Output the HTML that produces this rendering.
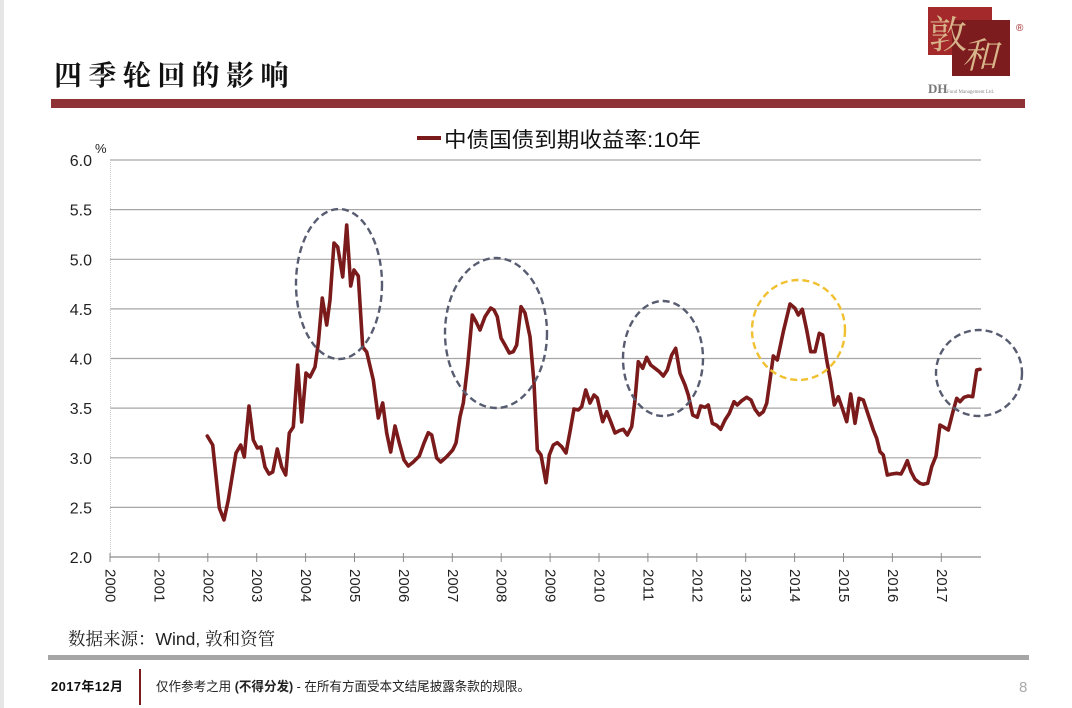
<!DOCTYPE html>
<html><head><meta charset="utf-8"><style>
html,body{margin:0;padding:0;background:#fff;}
body{width:1072px;height:708px;overflow:hidden;position:relative;font-family:"Liberation Sans","Noto Sans CJK SC",sans-serif;}
</style></head><body>
<svg width="1072" height="708" viewBox="0 0 1072 708" xmlns="http://www.w3.org/2000/svg" style="position:absolute;left:0;top:0">
<rect x="0" y="0" width="4" height="708" fill="#e6e6e6"/>
<!-- title -->
<text x="54" y="85" font-family="'Noto Serif CJK SC','Noto Sans CJK SC',serif" font-size="28" font-weight="bold" letter-spacing="6.5" fill="#111" textLength="241">四季轮回的影响</text>
<rect x="51" y="99" width="974" height="9" fill="#8f3236"/>
<!-- logo -->
<rect x="928" y="7" width="64" height="48" fill="#a3292b"/>
<rect x="952" y="20" width="58" height="56" fill="#7d1c1e"/>
<text x="929" y="48" font-family="'Noto Serif CJK SC',serif" font-size="38" fill="#d8b48a">敦</text>
<text x="962" y="68" font-family="'Noto Serif CJK SC',serif" font-size="36" fill="#d8b48a" font-style="italic">和</text>
<text x="1016" y="31" font-size="10" fill="#a3292b">®</text>
<text x="928" y="93" font-family="'Liberation Serif',serif" font-size="13" font-weight="bold" fill="#777">DH</text>
<text x="947" y="93" font-family="'Liberation Serif',serif" font-size="5" fill="#888">Fund Management Ltd.</text>
<!-- legend -->
<line x1="417" y1="138" x2="441" y2="138" stroke="#7a1a1a" stroke-width="4"/>
<text x="444" y="147" font-size="21" fill="#111" textLength="257" lengthAdjust="spacingAndGlyphs" font-family="'Liberation Sans','Noto Sans CJK SC',sans-serif">中债国债到期收益率:10年</text>
<!-- gridlines -->
<g stroke="#a6a6a6" stroke-width="1.2">
<line x1="110" y1="160" x2="981" y2="160"/>
<line x1="110" y1="209.6" x2="981" y2="209.6"/>
<line x1="110" y1="259.3" x2="981" y2="259.3"/>
<line x1="110" y1="308.9" x2="981" y2="308.9"/>
<line x1="110" y1="358.5" x2="981" y2="358.5"/>
<line x1="110" y1="408.1" x2="981" y2="408.1"/>
<line x1="110" y1="457.8" x2="981" y2="457.8"/>
<line x1="110" y1="507.4" x2="981" y2="507.4"/>
</g>
<line x1="110.5" y1="160" x2="110.5" y2="557" stroke="#c8c8c8" stroke-width="1" stroke-dasharray="1,1"/>
<line x1="110" y1="557" x2="981" y2="557" stroke="#8c8c8c" stroke-width="1.3"/>
<g stroke="#8c8c8c" stroke-width="1">
<line x1="110" y1="553" x2="110" y2="562"/><line x1="158.9" y1="553" x2="158.9" y2="562"/><line x1="207.8" y1="553" x2="207.8" y2="562"/><line x1="256.7" y1="553" x2="256.7" y2="562"/><line x1="305.6" y1="553" x2="305.6" y2="562"/><line x1="354.5" y1="553" x2="354.5" y2="562"/><line x1="403.4" y1="553" x2="403.4" y2="562"/><line x1="452.3" y1="553" x2="452.3" y2="562"/><line x1="501.2" y1="553" x2="501.2" y2="562"/><line x1="550.1" y1="553" x2="550.1" y2="562"/><line x1="599" y1="553" x2="599" y2="562"/><line x1="647.9" y1="553" x2="647.9" y2="562"/><line x1="696.8" y1="553" x2="696.8" y2="562"/><line x1="745.7" y1="553" x2="745.7" y2="562"/><line x1="794.6" y1="553" x2="794.6" y2="562"/><line x1="843.5" y1="553" x2="843.5" y2="562"/><line x1="892.4" y1="553" x2="892.4" y2="562"/><line x1="941.3" y1="553" x2="941.3" y2="562"/>
</g>
<!-- y labels -->
<g font-size="16" fill="#222" text-anchor="end">
<text x="92" y="166">6.0</text>
<text x="92" y="215.6">5.5</text>
<text x="92" y="265.3">5.0</text>
<text x="92" y="314.9">4.5</text>
<text x="92" y="364.5">4.0</text>
<text x="92" y="414.1">3.5</text>
<text x="92" y="463.8">3.0</text>
<text x="92" y="513.4">2.5</text>
<text x="92" y="563">2.0</text>
</g>
<text x="95" y="153" font-size="13" fill="#222">%</text>
<!-- x labels -->
<g font-size="15" fill="#222" dominant-baseline="central">
<text transform="translate(110,569) rotate(90)">2000</text>
<text transform="translate(158.9,569) rotate(90)">2001</text>
<text transform="translate(207.8,569) rotate(90)">2002</text>
<text transform="translate(256.7,569) rotate(90)">2003</text>
<text transform="translate(305.6,569) rotate(90)">2004</text>
<text transform="translate(354.5,569) rotate(90)">2005</text>
<text transform="translate(403.4,569) rotate(90)">2006</text>
<text transform="translate(452.3,569) rotate(90)">2007</text>
<text transform="translate(501.2,569) rotate(90)">2008</text>
<text transform="translate(550.1,569) rotate(90)">2009</text>
<text transform="translate(599,569) rotate(90)">2010</text>
<text transform="translate(647.9,569) rotate(90)">2011</text>
<text transform="translate(696.8,569) rotate(90)">2012</text>
<text transform="translate(745.7,569) rotate(90)">2013</text>
<text transform="translate(794.6,569) rotate(90)">2014</text>
<text transform="translate(843.5,569) rotate(90)">2015</text>
<text transform="translate(892.4,569) rotate(90)">2016</text>
<text transform="translate(941.3,569) rotate(90)">2017</text>
</g>
<!-- series -->
<polyline fill="none" stroke="#7a1a1a" stroke-width="3.6" stroke-linejoin="round" stroke-linecap="round" points="207.3,436 212.7,445 219.3,508 224,520 228.3,500 236,453 240.7,445 244.3,457 249,406 253.3,440 257.3,448 261,447 265,467 269,474 272.7,472 277.3,449 281.7,467 285.7,475 289.3,433 293.3,427 297.7,365 301.7,422 306,373 310,377 315,367 318.3,343 322.3,298 326.7,325 330,300 334,243 337.7,247 342.7,277 346.7,225 350.7,286 354,270 358.3,276 362.7,347 366.7,352 373.3,380 378.3,418 382.7,403 386.7,433 390.7,452 395,426 399.3,443 404,460 408.3,466 413.3,462 419.3,456 424,443 428.3,432.7 431.7,435 436.7,458 440.7,462 446.7,456.7 452.7,450 456,443 460,416.7 463.3,403 467.7,365 472.3,315 476,321.7 480,330 485,316.7 490.7,308 494,310 497.3,316.7 501,338 505,345 509.3,353 513.3,351.7 516.7,345 521,306.7 525,313 530,336.7 534,383 537.3,450 541,455 546,482.7 549.3,455 553.3,445 557.3,442.7 561.7,446.7 566,453 570,431.7 574,409 578.3,410 581.7,406.7 585.7,390 590,403 594,395 597.3,398 602.7,421.7 606.7,411.7 610.7,421.7 615,433 619.3,430.7 623.3,429.3 627.3,435 631.7,426.7 635,400 638.3,361.7 642.7,368.3 646.7,357.3 650.7,365 655,368.3 659.3,371.7 663.3,376 667.3,370 671.7,355 675.7,348.3 680,373.3 685,385 688.3,395 692.7,415 697.3,417.3 700.7,406 705,407.3 708.3,405 712.3,423.3 716.7,425.3 720.7,429.3 725,420 729.3,413.3 734,401.7 737.3,405 741.7,400.7 746.7,397.3 751,400 755,409.3 759.3,415 763.3,411.7 766.7,403.3 770,380 773.3,356 777.3,360 783.3,331.7 790,304 795,308.3 798.3,315 802.3,309.3 806.7,330 810.7,351.7 815,351.7 819.3,333.3 822.7,335 826.7,360 830.7,381.7 834.3,405 838.3,396.7 842.3,408.3 846.7,421.7 850.7,394 855,423.3 859,398.3 863.3,400 868.3,415 873.3,430 876.7,438.3 880,451.7 883.3,455 887.3,475 891.7,474 896.7,473.3 901,474 904,468.3 907.3,460.7 911,471.7 915,479.3 920,483.3 923.3,484.3 927.7,483.3 931.7,466.7 936,456 940,425 944,427.3 948.3,430 952.7,412.7 956.7,398.3 960,401.7 964,397.3 968.3,396 972.7,396.7 976.7,370 980,369.3"/>
<!-- ellipses -->
<g fill="none" stroke="#575c70" stroke-width="2.4" stroke-dasharray="7,4">
<ellipse cx="339" cy="284" rx="43" ry="75"/>
<ellipse cx="496" cy="333" rx="51" ry="75"/>
<ellipse cx="663" cy="358.5" rx="40" ry="57.5"/>
<ellipse cx="979" cy="373" rx="43" ry="43"/>
</g>
<ellipse cx="798.5" cy="330" rx="46.5" ry="50" fill="none" stroke="#f0c030" stroke-width="2.4" stroke-dasharray="7,4"/>
<!-- source -->
<text x="68" y="645" font-family="'Liberation Sans','Noto Serif CJK SC',serif" font-size="17.5" fill="#222">数据来源：Wind, 敦和资管</text>
<rect x="48" y="655" width="981" height="5" fill="#a6a6a6"/>
<!-- footer -->
<text x="51" y="691" font-size="13" font-weight="bold" fill="#111" textLength="72" font-family="'Liberation Sans','Noto Sans CJK SC',sans-serif">2017年12月</text>
<line x1="140" y1="669" x2="140" y2="705" stroke="#7a1a1a" stroke-width="2"/>
<text x="156" y="691" font-size="13" fill="#222" textLength="374" lengthAdjust="spacingAndGlyphs" font-family="'Liberation Sans','Noto Sans CJK SC',sans-serif">仅作参考之用 <tspan font-weight="bold">(不得分发)</tspan> - 在所有方面受本文结尾披露条款的规限。</text>
<text x="1019" y="692" font-size="15" fill="#aaa">8</text>
</svg>
</body></html>
